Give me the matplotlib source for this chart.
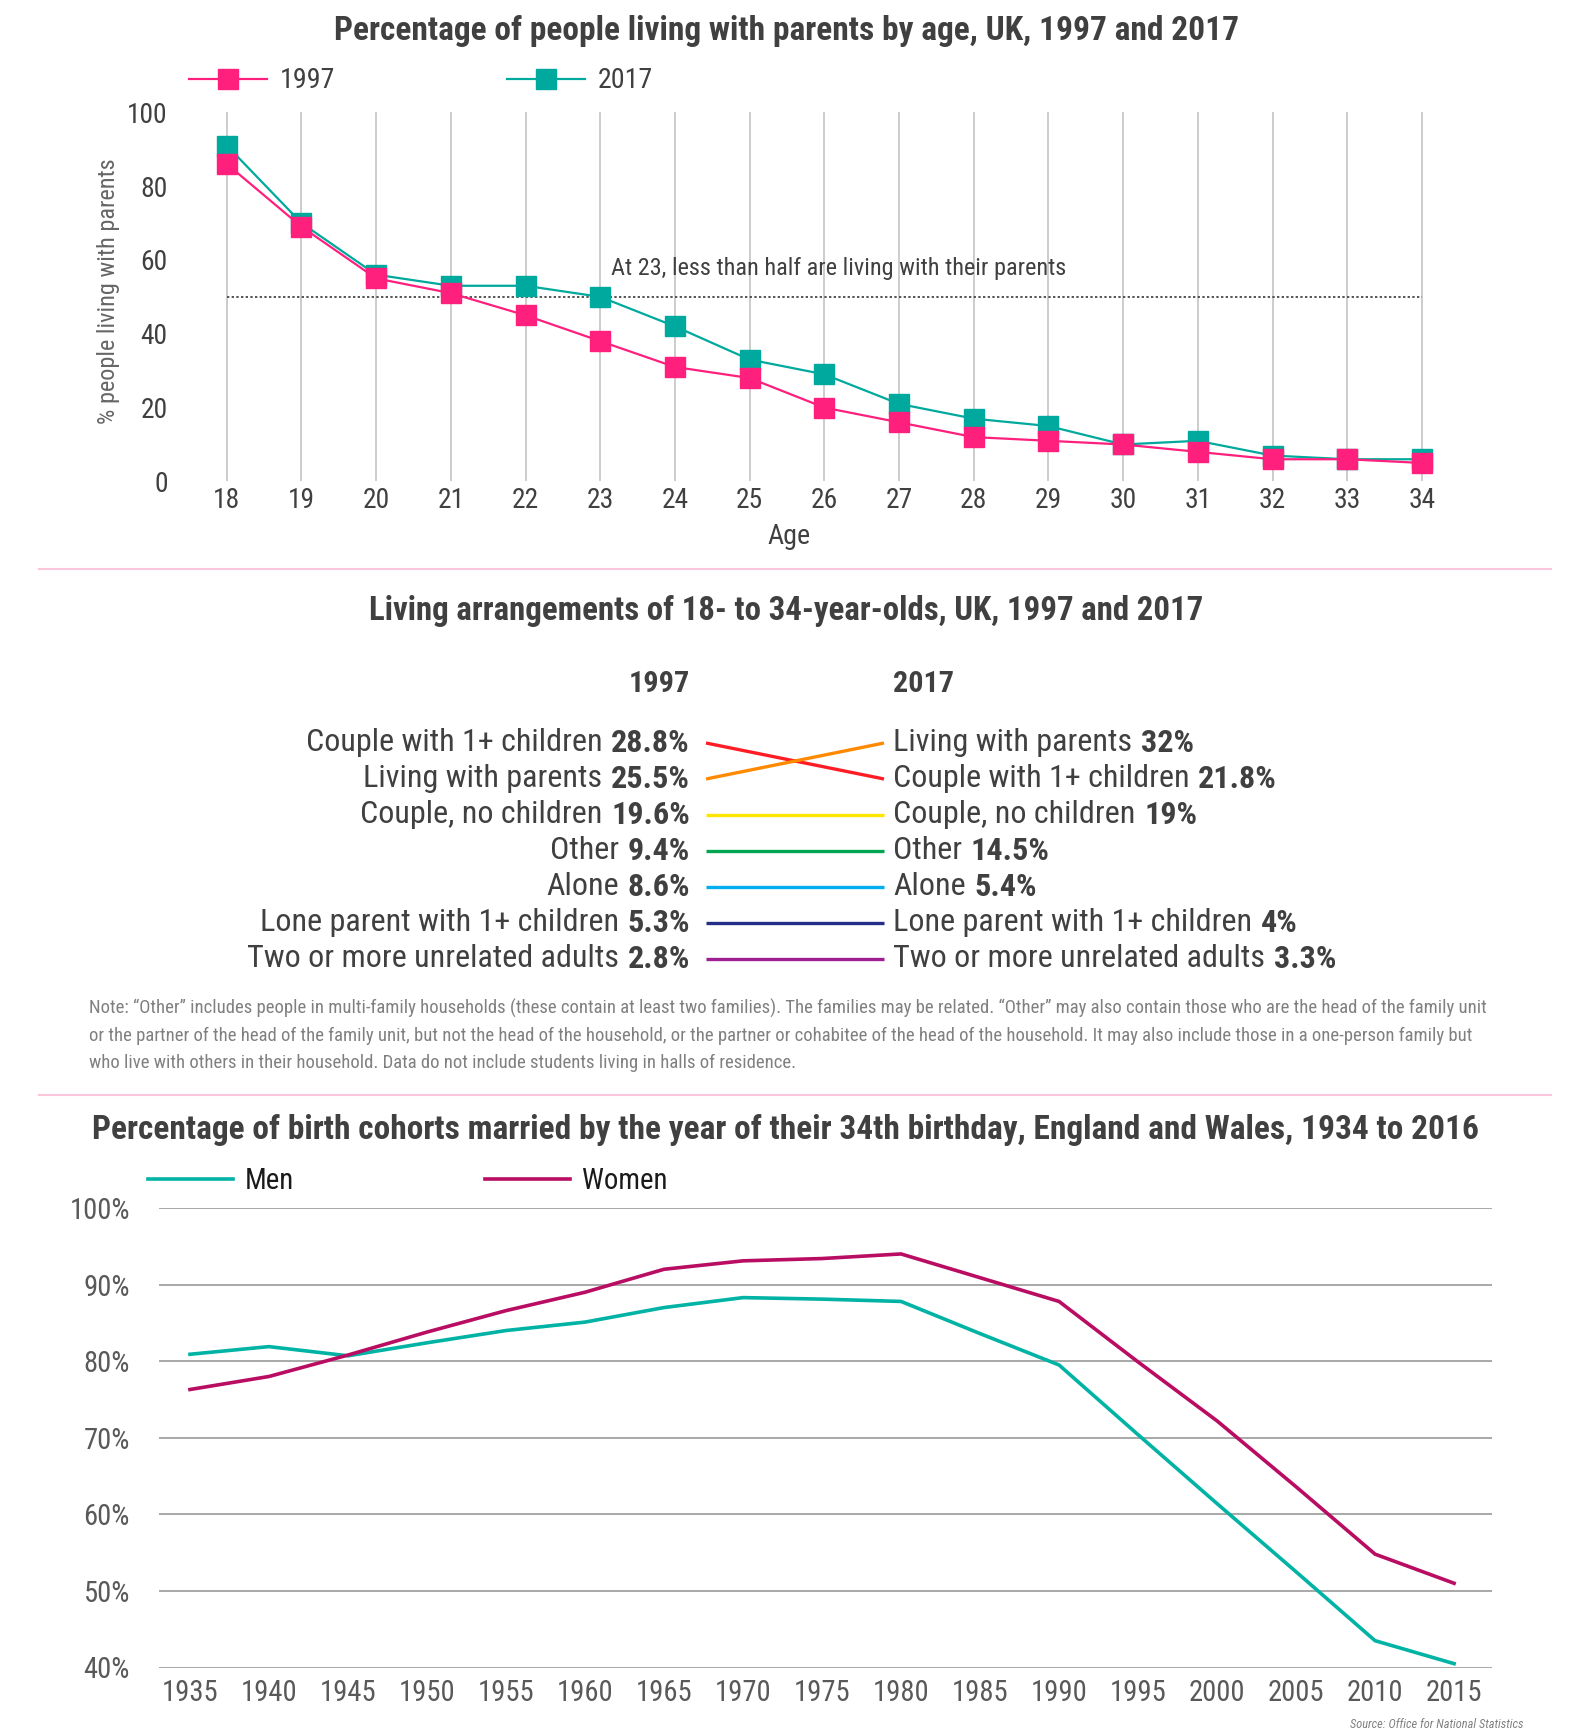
import numpy as np
import matplotlib
matplotlib.use("Agg")
from matplotlib import pyplot as plt
from matplotlib import font_manager
from matplotlib.lines import Line2D

W, H = 1572, 1734

# chart 1: living with parents by age
ages = list(range(18, 35))
parents_1997 = [86, 69, 55, 51, 45, 38, 31, 28, 20, 16, 12, 11, 10, 8, 6, 6, 5]
parents_2017 = [91, 70, 56, 53, 53, 50, 42, 33, 29, 21, 17, 15, 10, 11, 7, 6, 6]
half_mark = 50
note_age = 23

# chart 2: living arrangements
arrangements = [
    "Couple with 1+ children",
    "Living with parents",
    "Couple, no children",
    "Other",
    "Alone",
    "Lone parent with 1+ children",
    "Two or more unrelated adults",
]
share_1997 = [28.8, 25.5, 19.6, 9.4, 8.6, 5.3, 2.8]
share_2017 = [21.8, 32, 19, 14.5, 5.4, 4, 3.3]
arrangement_colors = ["#ff1d25", "#ff8a00", "#ffe600", "#00a651", "#00aeef", "#262f87", "#9e1f91"]

# chart 3: married by 34th birthday
cohort_years = list(range(1935, 2016, 5))
married_men = [80.9, 81.9, 80.7, 82.4, 84.0, 85.1, 87.0, 88.3, 88.1, 87.8,
               83.6, 79.5, 70.4, 61.4, 52.5, 43.5, 40.5]
married_women = [76.3, 78.0, 80.8, 83.8, 86.6, 89.0, 92.0, 93.1, 93.4, 94.0,
                 90.9, 87.8, 79.9, 72.2, 63.6, 54.8, 51.0]

NOTE = [
    "Note: \u201cOther\u201d includes people in multi-family households (these contain at least two "
    "families). The families may be related. \u201cOther\u201d may also contain those who are the "
    "head of the family unit",
    "or the partner of the head of the family unit, but not the head of the household, or the "
    "partner or cohabitee of the head of the household. It may also include those in a "
    "one-person family but",
    "who live with others in their household. Data do not include students living in halls "
    "of residence.",
]

PINK = "#ff1f7c"
TEAL = "#00a99d"
MEN = "#00b3a4"
WOMEN = "#b80d62"
DARK = "#404040"

# pick the narrowest sans family that is installed
fonts = font_manager.fontManager.ttflist
names = {f.name for f in fonts}
FONT, STRETCH = "Liberation Sans", "normal"
for cand in ["Liberation Sans Narrow", "Roboto Condensed", "Open Sans Condensed"]:
    if cand in names:
        FONT = cand
        break
else:
    for cand in ["Noto Sans", "Open Sans", "Roboto", "DejaVu Sans"]:
        if any(f.name == cand and str(f.stretch) in ("condensed", "semi-condensed")
               for f in fonts):
            FONT, STRETCH = cand, "condensed"
            break
plt.rcParams["font.family"] = [FONT, "DejaVu Sans"]
plt.rcParams["font.stretch"] = STRETCH


def box(l, t, r, b):
    return [l / W, 1 - b / H, (r - l) / W, (b - t) / H]


def hline(y, x0=39, x1=1551):
    fig.add_artist(Line2D([x0 / W, x1 / W], [1 - y / H] * 2, color="#fbc6dc",
                          lw=1.5, transform=fig.transFigure))


fig = plt.figure(figsize=(W / 100, H / 100), dpi=100, facecolor="white")
renderer = fig.canvas.get_renderer()


def text_width(text, fs, **kw):
    t = fig.text(0, 0, text, fontsize=fs, **kw)
    w = t.get_window_extent(renderer).width
    t.remove()
    return w


def size_for(text, width_px, **kw):
    return 20 * width_px / text_width(text, 20, **kw)


def px(fs):
    return fs * 100 / 72


# ---------------- chart 1 ----------------
t1 = "Percentage of people living with parents by age, UK, 1997 and 2017"
fig.text(0.5, 1 - 31 / H, t1, ha="center", va="center",
         fontsize=size_for(t1, 900, weight="bold"), weight="bold", color=DARK)

fs_tick = size_for("100", 34) * 1.2
ax1 = fig.add_axes(box(174.5, 112.3, 1474.2, 481.4))
ax1.plot(ages, parents_2017, color=TEAL, lw=1.6, marker="s", ms=14,
         label="2017", clip_on=False, zorder=3)
ax1.plot(ages, parents_1997, color=PINK, lw=1.6, marker="s", ms=14,
         label="1997", clip_on=False, zorder=4)
ax1.hlines(half_mark, ages[0], ages[-1], colors="#555555", linestyles=(0, (1.2, 1.2)),
           lw=1.4, zorder=2)
ann = "At 23, less than half are living with their parents"
ax1.text(note_age + 0.15, half_mark + 7.8, ann, ha="left", va="center",
         fontsize=size_for(ann, 441) * 1.03, color=DARK)
ax1.set_xlim(17.3, 34.7)
ax1.set_ylim(0, 100)
ax1.set_xticks(ages)
ax1.set_yticks(range(0, 101, 20))
ax1.grid(axis="x", color="#c4c4c4", lw=1.2)
ax1.set_axisbelow(True)
for s in ax1.spines.values():
    s.set_visible(False)
ax1.tick_params(length=0, labelsize=fs_tick, labelcolor=DARK)
ax1.tick_params(axis="x", pad=4)
ax1.tick_params(axis="y", pad=5)
fig.text(789 / W, 1 - 536 / H, "Age", ha="center", va="center",
         fontsize=size_for("Age", 36) * 1.2, color=DARK)
ylab = "% people living with parents"
fig.text(109 / W, 1 - 291 / H, ylab, ha="center", va="center", rotation=90,
         fontsize=size_for(ylab, 265), color="#666666")

fs_leg = size_for("1997", 44) * 1.25
w1 = text_width("1997", fs_leg)
h, l = ax1.get_legend_handles_labels()
ax1.legend(h[::-1], l[::-1], ncol=2, frameon=False, fontsize=fs_leg, loc="center left",
           bbox_to_anchor=(189 / W, 1 - 81 / H), bbox_transform=fig.transFigure,
           borderaxespad=0, borderpad=0, handlelength=78 / px(fs_leg),
           handletextpad=13 / px(fs_leg), columnspacing=(507 - 280 - w1) / px(fs_leg),
           labelcolor=DARK)

hline(569)

# ---------------- chart 2 ----------------
t2 = "Living arrangements of 18- to 34-year-olds, UK, 1997 and 2017"
fig.text(0.5, 1 - 611 / H, t2, ha="center", va="center",
         fontsize=size_for(t2, 832, weight="bold"), weight="bold", color=DARK)
fs_head = size_for("1997", 61, weight="bold")
fig.text(690 / W, 1 - 684 / H, "1997", ha="right", va="center", fontsize=fs_head,
         weight="bold", color=DARK)
fig.text(893 / W, 1 - 684 / H, "2017", ha="left", va="center", fontsize=fs_head,
         weight="bold", color=DARK)

n = len(arrangements)
rank_1997 = np.empty(n, int)
rank_1997[np.argsort(-np.array(share_1997))] = np.arange(n)
rank_2017 = np.empty(n, int)
rank_2017[np.argsort(-np.array(share_2017))] = np.arange(n)

fs_row = size_for("Two or more unrelated adults 2.8%", 439)
gap = 0.27 * px(fs_row)

ax2 = fig.add_axes(box(706, 743, 884, 959))
ax2.set_xlim(0, 1)
ax2.set_ylim(n - 1, 0)
ax2.axis("off")


def row_label(x, y, name, value, left):
    kw = dict(xy=(x, y), textcoords="offset points", va="center", fontsize=fs_row, color=DARK)
    if left:
        v = ax2.annotate(value, xytext=(-16 * 0.72, 0), ha="right", weight="bold", **kw)
        w = v.get_window_extent(renderer).width
        ax2.annotate(name, xytext=((-16 - w - gap) * 0.72, 0), ha="right", **kw)
    else:
        t = ax2.annotate(name, xytext=(9 * 0.72, 0), ha="left", **kw)
        w = t.get_window_extent(renderer).width
        ax2.annotate(value, xytext=((9 + w + gap) * 0.72, 0), ha="left", weight="bold", **kw)


for i, name in enumerate(arrangements):
    ax2.plot([0, 1], [rank_1997[i], rank_2017[i]], color=arrangement_colors[i], lw=2.4,
             clip_on=False, solid_capstyle="butt")
    row_label(0, rank_1997[i], name, f"{share_1997[i]:g}%", True)
    row_label(1, rank_2017[i], name, f"{share_2017[i]:g}%", False)

fs_note = size_for(NOTE[0], 1395)
for k, line in enumerate(NOTE):
    fig.text(89 / W, 1 - (1008 + 27.5 * k) / H, line, ha="left", va="center",
             fontsize=fs_note, color="#808080")

hline(1095)

# ---------------- chart 3 ----------------
t3 = ("Percentage of birth cohorts married by the year of their 34th birthday, "
      "England and Wales, 1934 to 2016")
fig.text(0.5, 1 - 1130 / H, t3, ha="center", va="center",
         fontsize=size_for(t3, 1383, weight="bold"), weight="bold", color=DARK)

ax3 = fig.add_axes(box(159, 1208, 1492, 1667.5))
ax3.plot(cohort_years, married_men, color=MEN, lw=2.6, label="Men")
ax3.plot(cohort_years, married_women, color=WOMEN, lw=2.6, label="Women")
ax3.set_xlim(1933.04, 2017.4)
ax3.set_ylim(40, 100)
ax3.set_xticks(cohort_years)
ax3.set_yticks(range(40, 101, 10))
ax3.set_yticklabels([f"{v}%" for v in range(40, 101, 10)])
ax3.grid(axis="y", color="#9a9a9a", lw=1.2)
ax3.set_axisbelow(True)
for s in ax3.spines.values():
    s.set_visible(False)
ax3.tick_params(length=0, labelsize=size_for("1935", 47) * 1.2, labelcolor="#595959")
ax3.tick_params(axis="y", pad=21)
ax3.tick_params(axis="x", pad=8)
fs_leg3 = size_for("Women", 71) * 1.2
wm = text_width("Men", fs_leg3)
ax3.legend(ncol=2, frameon=False, fontsize=fs_leg3, loc="center left",
           bbox_to_anchor=(148 / W, 1 - 1181 / H), bbox_transform=fig.transFigure,
           borderaxespad=0, borderpad=0, handlelength=85 / px(fs_leg3),
           handletextpad=12 / px(fs_leg3), columnspacing=(485 - 245 - wm) / px(fs_leg3),
           labelcolor="#1a1a1a")

src = "Source: Office for National Statistics"
fig.text(1523 / W, 1 - 1724 / H, src, ha="right", va="center",
         fontsize=size_for(src, 158, style="italic") * 1.1, style="italic", color="#808080")

fig.savefig("out.png", dpi=100, facecolor="white")
